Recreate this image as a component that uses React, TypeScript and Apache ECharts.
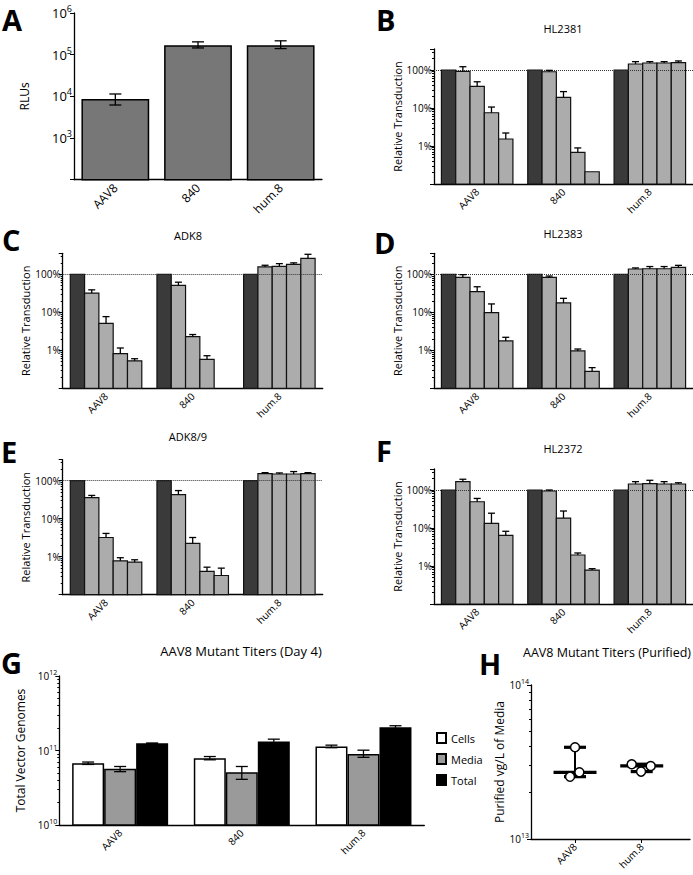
import React, { useEffect, useRef } from 'react';
import * as echarts from 'echarts';

// ---------- data ----------
const categories = ['AAV8', '840', 'hum.8'];

// Panel A: RLUs (mean, upper and lower error bounds)
const aRLU = [8600, 168000, 168000];
const aRLUHigh = [11400, 203000, 215000];
const aRLULow = [6200, 145000, 140000];

// Panels B-F: relative transduction (%), 5 bars per category; upper error bound
const hl2381 = [[100, 100, 100], [92, 90, 144], [37, 19, 153], [7.5, 0.68, 153], [1.53, 0.21, 156]];
const hl2381Err = [[null, null, null], [122, 98, 166], [49, 27, 166], [10.6, 0.89, 166], [2.2, null, 173]];

const adk8 = [[100, 100, 100], [32, 51, 156], [5.1, 2.3, 162], [0.82, 0.58, 183], [0.53, null, 264]];
const adk8Err = [[null, null, null], [39, 62, 173], [7.7, 2.6, 191], [1.15, 0.72, 200], [0.6, null, 336]];

const hl2383 = [[100, 100, 100], [83, 83, 138], [35, 17.6, 140], [9.8, 0.96, 140], [1.76, 0.28, 153]];
const hl2383Err = [[null, null, null], [98, 90, 147], [47, 23.3, 160], [16.6, 1.08, 160], [2.2, 0.35, 172]];

const adk89 = [[100, 100, 100], [36, 43, 153], [3.2, 2.24, 150], [0.78, 0.41, 150], [0.72, 0.32, 153]];
const adk89Err = [[null, null, null], [41, 55, 163], [4.1, 3.2, 160], [0.94, 0.53, 174], [0.83, 0.5, 163]];

const hl2372 = [[100, 100, 100], [166, 94, 144], [49, 18.3, 147], [13.3, 1.95, 144], [6.4, 0.78, 144]];
const hl2372Err = [[null, null, null], [192, 100, 166], [60, 28, 180], [24.5, 2.2, 166], [8.2, 0.85, 155]];

// Panel G: titers (Day 4)
const titerSeries = ['Cells', 'Media', 'Total'];
const titerMean = [[6.76e10, 7.9e10, 1.13e11], [5.68e10, 5.1e10, 9.0e10], [1.25e11, 1.32e11, 2.05e11]];
const titerHigh = [[7.0e10, 8.3e10, 1.18e11], [6.1e10, 6.1e10, 1.01e11], [1.26e11, 1.42e11, 2.15e11]];
const titerLow = [[6.5e10, 7.5e10, 1.09e11], [5.2e10, 4.1e10, 8.1e10], [1.24e11, 1.24e11, 1.96e11]];

// Panel H: purified titers
const purCategories = ['AAV8', 'hum.8'];
const purAAV8 = [3.94e13, 2.71e13, 2.54e13];
const purAAV8Jitter = [0, 0.065, -0.075];
const purHum8 = [3.06e13, 2.98e13, 2.74e13];
const purHum8Jitter = [-0.15, 0.135, -0.01];

// ---------- layout / style ----------
const FONT = '"Open Sans", "Noto Sans", sans-serif';
const transPanels = [
  { title: 'HL2381', values: hl2381, errs: hl2381Err, letter: 'B' },
  { title: 'ADK8', values: adk8, errs: adk8Err, letter: 'C' },
  { title: 'HL2383', values: hl2383, errs: hl2383Err, letter: 'D' },
  { title: 'ADK8/9', values: adk89, errs: adk89Err, letter: 'E' },
  { title: 'HL2372', values: hl2372, errs: hl2372Err, letter: 'F' },
];
const transLayout = [
  { left: 434, top: 49, width: 259, height: 135, tx: 563, ty: 28, lx: 376, ly: 19 },
  { left: 62.7, top: 253.3, width: 260, height: 135, tx: 188, ty: 235, lx: 2, ly: 239 },
  { left: 434, top: 253.3, width: 259, height: 135, tx: 563, ty: 233, lx: 374, ly: 242 },
  { left: 62.7, top: 459.7, width: 260, height: 135, tx: 188, ty: 436, lx: 1, ly: 451 },
  { left: 434, top: 469, width: 259, height: 135, tx: 563, ty: 448, lx: 376, ly: 450 },
];
const BAR_W = 14.3;

function sup(v: number, hide: number[]) {
  const l = Math.log10(v);
  const e = Math.round(l);
  if (Math.abs(l - e) > 1e-6 || hide.indexOf(e) >= 0) return '';
  return `{b|10}{s|${e}}`;
}
function pct(v: number) {
  const l = Math.log10(v);
  const e = Math.round(l);
  if (Math.abs(l - e) > 1e-6 || e < 0 || e > 2) return '';
  return `${Math.pow(10, e)}%`;
}

function errorBars(n: number, barW: number, capW: number, both: boolean) {
  return (params: any, api: any) => {
    const cat = api.value(0);
    const mean = api.value(1);
    const hi = api.value(2);
    const lo = api.value(3);
    const si = api.value(4);
    const off = (si - (n - 1) / 2) * barW;
    const pm = api.coord([cat, mean]);
    const ph = api.coord([cat, hi]);
    const x = pm[0] + off;
    const style = { stroke: '#000', lineWidth: 1.3, fill: null };
    const children: any[] = [
      { type: 'line', shape: { x1: x, y1: ph[1], x2: x, y2: pm[1] }, style },
      { type: 'line', shape: { x1: x - capW / 2, y1: ph[1], x2: x + capW / 2, y2: ph[1] }, style },
    ];
    if (both) {
      const pl = api.coord([cat, lo]);
      children.push({ type: 'line', shape: { x1: x, y1: pm[1], x2: x, y2: pl[1] }, style });
      children.push({ type: 'line', shape: { x1: x - capW / 2, y1: pl[1], x2: x + capW / 2, y2: pl[1] }, style });
    }
    return { type: 'group', children };
  };
}

// bars that rise from the bottom of the plot (log axis baseline)
function barRender(n: number, barW: number, si: number, fill: string) {
  return (params: any, api: any) => {
    const cat = api.value(0);
    const v = api.value(1);
    const p = api.coord([cat, v]);
    const cs = params.coordSys;
    const bottom = cs.y + cs.height;
    const x = p[0] + (si - (n - 1) / 2) * barW - barW / 2;
    return {
      type: 'rect',
      shape: { x, y: p[1], width: barW, height: bottom - p[1] },
      style: { fill, stroke: '#111', lineWidth: 1.2 },
    };
  };
}

function rangeRender(params: any, api: any) {
  const x = api.value(0);
  const pmin = api.coord([x, api.value(1)]);
  const pmed = api.coord([x, api.value(2)]);
  const pmax = api.coord([x, api.value(3)]);
  const cx = pmin[0];
  const thick = { stroke: '#000', lineWidth: 3.2, fill: null };
  const thin = { stroke: '#000', lineWidth: 2, fill: null };
  return {
    type: 'group',
    children: [
      { type: 'line', shape: { x1: cx, y1: pmin[1], x2: cx, y2: pmax[1] }, style: thin },
      { type: 'line', shape: { x1: cx - 11, y1: pmin[1], x2: cx + 11, y2: pmin[1] }, style: thick },
      { type: 'line', shape: { x1: cx - 11, y1: pmax[1], x2: cx + 11, y2: pmax[1] }, style: thick },
      { type: 'line', shape: { x1: cx - 21.5, y1: pmed[1], x2: cx + 21.5, y2: pmed[1] }, style: thick },
    ],
  };
}

function median(a: number[]) {
  const s = [...a].sort((p, q) => p - q);
  return s[Math.floor(s.length / 2)];
}

function catAxis(gi: number, data: string[], fontSize: number) {
  return {
    type: 'category', gridIndex: gi, data,
    axisLine: { onZero: false, lineStyle: { color: '#000', width: 1.3 } },
    axisTick: { alignWithLabel: true, length: 4, lineStyle: { color: '#000' } },
    axisLabel: { rotate: 45, fontSize, color: '#000', margin: 6, interval: 0, fontFamily: FONT },
  };
}

function logAxis(gi: number, min: number, max: number, formatter: any, name: string, nameGap: number, nameSize: number, labelRich?: any) {
  return {
    type: 'log', logBase: 10, gridIndex: gi, min, max,
    axisLine: { show: true, onZero: false, lineStyle: { color: '#000', width: 1.3 } },
    axisTick: { show: true, length: 4, lineStyle: { color: '#000' } },
    minorTick: { show: true, splitNumber: 9, length: 2, lineStyle: { color: '#000' } },
    splitLine: { show: false },
    axisLabel: { formatter, fontSize: 10, margin: 2, color: '#000', fontFamily: FONT, rich: labelRich, showMinLabel: true, showMaxLabel: true },
    name, nameLocation: 'middle', nameGap,
    nameTextStyle: { fontSize: nameSize, color: '#000', fontFamily: FONT },
  };
}

function buildOption() {
  const grids: any[] = [];
  const xAxes: any[] = [];
  const yAxes: any[] = [];
  const series: any[] = [];
  const graphics: any[] = [];
  const letter = (t: string, x: number, y: number) => graphics.push({
    type: 'text', x, y,
    style: { text: t, font: `bold 29px ${FONT}`, fill: '#000', align: 'left', textAlign: 'left', verticalAlign: 'middle', textVerticalAlign: 'middle' },
  });
  const title = (t: string, x: number, y: number, size: number) => graphics.push({
    type: 'text', x, y,
    style: { text: t, font: `${size}px ${FONT}`, fill: '#000', align: 'center', textAlign: 'center', verticalAlign: 'middle', textVerticalAlign: 'middle' },
  });

  // ---- Panel A ----
  grids.push({ left: 74, top: 13, width: 248, height: 166.7, outerBoundsMode: 'none' });
  xAxes.push(catAxis(0, categories, 12));
  yAxes.push(logAxis(0, 100, 1e6, (v: number) => sup(v, [2]), 'RLUs', 44, 12,
    { b: { fontSize: 13, lineHeight: 18, color: '#000', fontFamily: FONT }, s: { fontSize: 9, lineHeight: 18, verticalAlign: 'top', color: '#000', fontFamily: FONT } }));
  yAxes[0].minorTick.show = false;
  series.push({
    type: 'bar', xAxisIndex: 0, yAxisIndex: 0, data: aRLU, barCategoryGap: '18%',
    itemStyle: { color: '#777777', borderColor: '#000', borderWidth: 1.5 },
  });
  series.push({
    type: 'custom', xAxisIndex: 0, yAxisIndex: 0, z: 5,
    renderItem: errorBars(1, 0, 12, true), encode: { x: 0, y: [1, 2, 3] },
    data: aRLU.map((v, i) => [i, v, aRLUHigh[i], aRLULow[i], 0]),
  });
  letter('A', 2, 19);

  // ---- Panels B-F ----
  transPanels.forEach((p, k) => {
    const gi = k + 1;
    const L = transLayout[k];
    grids.push({ left: L.left, top: L.top, width: L.width, height: L.height, outerBoundsMode: 'none' });
    xAxes.push(catAxis(gi, categories, 10));
    yAxes.push(logAxis(gi, 0.1, 357, pct, 'Relative Transduction', 31, 11));
    // reference line at 100%
    series.push({
      type: 'bar', xAxisIndex: gi, yAxisIndex: gi, data: ['-', '-', '-'],
      markLine: {
        silent: true, symbol: ['none', 'none'], label: { show: false },
        lineStyle: { type: 'dotted', color: '#333', width: 1 },
        data: [{ yAxis: 100 }],
      },
    });
    p.values.forEach((vals, si) => {
      const d: any[] = [];
      vals.forEach((v, ci) => { if (v != null) d.push([ci, v]); });
      series.push({
        type: 'custom', xAxisIndex: gi, yAxisIndex: gi, z: 3,
        renderItem: barRender(5, BAR_W, si, si === 0 ? '#3a3a3a' : '#acacac'),
        encode: { x: 0, y: 1 },
        data: d,
      });
    });
    const errData: any[] = [];
    p.values.forEach((vals, si) => vals.forEach((v, ci) => {
      const e = p.errs[si][ci];
      if (v != null && e != null) errData.push([ci, v, e, v, si]);
    }));
    series.push({
      type: 'custom', xAxisIndex: gi, yAxisIndex: gi, z: 5,
      renderItem: errorBars(5, BAR_W, 7, false), encode: { x: 0, y: [1, 2, 3] },
      data: errData,
    });
    title(p.title, L.tx, L.ty, 11);
    letter(p.letter, L.lx, L.ly);
  });

  // ---- Panel G ----
  const gG = 6;
  grids.push({ left: 59.3, top: 676, width: 365, height: 149, outerBoundsMode: 'none' });
  xAxes.push(catAxis(gG, categories, 10));
  yAxes.push(logAxis(gG, 1e10, 1e12, (v: number) => sup(v, []), 'Total Vector Genomes', 27, 12,
    { b: { fontSize: 10, lineHeight: 14, color: '#000', fontFamily: FONT }, s: { fontSize: 7, lineHeight: 14, verticalAlign: 'top', color: '#000', fontFamily: FONT } }));
  const gColors = ['#ffffff', '#9a9a9a', '#000000'];
  titerSeries.forEach((name, si) => {
    series.push({
      type: 'bar', name, xAxisIndex: gG, yAxisIndex: gG, barWidth: 32, barGap: '0%',
      data: titerMean[si],
      itemStyle: { color: gColors[si], borderColor: '#000', borderWidth: 1.5 },
    });
  });
  const gErr: any[] = [];
  titerMean.forEach((vals, si) => vals.forEach((v, ci) => gErr.push([ci, v, titerHigh[si][ci], titerLow[si][ci], si])));
  series.push({
    type: 'custom', xAxisIndex: gG, yAxisIndex: gG, z: 5,
    renderItem: errorBars(3, 32, 12, true), encode: { x: 0, y: [1, 2, 3] },
    data: gErr,
  });
  title('AAV8 Mutant Titers (Day 4)', 241, 651, 13);
  letter('G', 1, 662);

  // ---- Panel H ----
  const gH = 7;
  grids.push({ left: 531, top: 685, width: 159, height: 154, outerBoundsMode: 'none' });
  xAxes.push({
    type: 'value', gridIndex: gH, min: -0.66, max: 1.724,
    axisLine: { show: true, onZero: false, lineStyle: { color: '#000', width: 1.3 } },
    axisTick: { show: true, length: 4, customValues: [0, 1], lineStyle: { color: '#000' } },
    axisLabel: { rotate: 45, fontSize: 10, color: '#000', margin: 6, fontFamily: FONT, customValues: [0, 1], formatter: (v: number) => purCategories[Math.round(v)] ?? '' },
    splitLine: { show: false },
  });
  yAxes.push(logAxis(gH, 1e13, 1e14, (v: number) => sup(v, []), 'Purified vg/L of Media', 21, 12,
    { b: { fontSize: 10, lineHeight: 14, color: '#000', fontFamily: FONT }, s: { fontSize: 7, lineHeight: 14, verticalAlign: 'top', color: '#000', fontFamily: FONT } }));
  const groups = [purAAV8, purHum8];
  series.push({
    type: 'custom', xAxisIndex: gH, yAxisIndex: gH, z: 4,
    renderItem: rangeRender, encode: { x: 0, y: [1, 2, 3] },
    data: groups.map((g, i) => [i, Math.min(...g), median(g), Math.max(...g)]),
  });
  const pts: any[] = [];
  purAAV8.forEach((v, i) => pts.push([0 + purAAV8Jitter[i], v]));
  purHum8.forEach((v, i) => pts.push([1 + purHum8Jitter[i], v]));
  series.push({
    type: 'scatter', xAxisIndex: gH, yAxisIndex: gH, z: 6, data: pts, symbol: 'circle', symbolSize: 9,
    itemStyle: { color: '#ffffff', borderColor: '#000', borderWidth: 1.5, opacity: 1 },
  });
  title('AAV8 Mutant Titers (Purified)', 607, 652, 12.5);
  letter('H', 479, 663);

  return {
    animation: false,
    backgroundColor: '#ffffff',
    textStyle: { fontFamily: FONT },
    grid: grids,
    xAxis: xAxes,
    yAxis: yAxes,
    series,
    graphic: graphics,
    legend: {
      data: titerSeries, orient: 'vertical', left: 431, top: 727, itemWidth: 9, itemHeight: 10, itemGap: 9,
      icon: 'rect', textStyle: { fontSize: 11, color: '#000', fontFamily: FONT }, selectedMode: false,
    },
  };
}

export default function App() {
  const ref = useRef<HTMLDivElement>(null);
  useEffect(() => {
    if (!ref.current) return;
    const chart = echarts.init(ref.current, undefined, { renderer: 'svg' });
    chart.setOption(buildOption() as any);
    return () => chart.dispose();
  }, []);
  return <div ref={ref} style={{ position: 'absolute', left: 0, top: 0, width: 693, height: 875, background: '#fff' }} />;
}
